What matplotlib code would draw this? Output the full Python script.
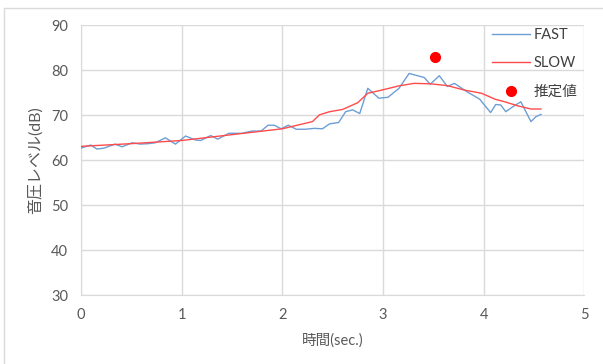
import matplotlib
matplotlib.use("Agg")
import matplotlib.pyplot as plt
from matplotlib.patches import Rectangle

# FAST time weighting (s, dB)
t_fast = [0.00, 0.10, 0.16, 0.23, 0.34, 0.41, 0.51, 0.59, 0.67, 0.74, 0.84, 0.94,
          1.04, 1.14, 1.19, 1.29, 1.36, 1.47, 1.60, 1.70, 1.79, 1.86, 1.92, 1.99,
          2.06, 2.14, 2.23, 2.32, 2.40, 2.47, 2.56, 2.63, 2.70, 2.77, 2.85, 2.96,
          3.05, 3.16, 3.26, 3.41, 3.47, 3.56, 3.64, 3.71, 3.83, 3.96, 4.07, 4.12,
          4.17, 4.22, 4.29, 4.37, 4.47, 4.52, 4.57]
fast = [62.7, 63.4, 62.5, 62.7, 63.6, 63.0, 63.9, 63.6, 63.7, 63.9, 65.0, 63.6,
        65.4, 64.5, 64.4, 65.5, 64.7, 66.0, 66.0, 66.5, 66.5, 67.8, 67.8, 67.0,
        67.8, 66.9, 66.9, 67.1, 67.0, 68.1, 68.4, 70.8, 71.2, 70.4, 76.0, 73.8,
        74.0, 76.0, 79.3, 78.4, 76.9, 78.8, 76.4, 77.1, 75.3, 73.6, 70.6, 72.4,
        72.3, 70.8, 71.9, 73.0, 68.6, 69.7, 70.2]

# SLOW time weighting (s, dB)
t_slow = [0.00, 0.50, 1.00, 1.50, 2.00, 2.15, 2.30, 2.37, 2.47, 2.60, 2.75, 2.85,
          2.95, 3.08, 3.15, 3.31, 3.47, 3.64, 3.81, 3.98, 4.11, 4.21, 4.34, 4.47, 4.57]
slow = [63.1, 63.7, 64.4, 65.7, 67.0, 67.8, 68.6, 70.1, 70.8, 71.3, 72.8, 74.9,
        75.4, 76.1, 76.5, 77.1, 77.0, 76.6, 75.6, 74.9, 73.6, 73.0, 72.1, 71.4, 71.4]

# Estimated value
t_est = [3.52]
est = [83.0]

x_ticks = [0, 1, 2, 3, 4, 5]
y_ticks = [30, 40, 50, 60, 70, 80, 90]

FONT = ["Lato", "Noto Sans CJK JP", "DejaVu Sans"]
plt.rcParams["font.family"] = FONT

fig = plt.figure(figsize=(6.03, 3.64), dpi=100)
ax = fig.add_axes([0.1340, 0.1887, 0.8350, 0.7418])

grid_c = "#DADADA"
text_c = "#595959"

ax.plot(t_fast, fast, color="#6C9FD6", lw=1.0, label="FAST", zorder=3)
ax.plot(t_slow, slow, color="#FF4B4B", lw=1.0, label="SLOW", zorder=4)
ax.plot(t_est, est, "o", color="#FF0000", ms=7, lw=0, label="推定値", zorder=5)

ax.set_xlim(0, 5)
ax.set_ylim(30, 90)
ax.set_xticks(x_ticks)
ax.set_yticks(y_ticks)
ax.grid(True, color=grid_c, lw=1.0)
ax.set_axisbelow(True)
for s in ax.spines.values():
    s.set_visible(False)
ax.spines["left"].set_visible(True)
ax.spines["bottom"].set_visible(True)
ax.spines["left"].set_color(grid_c)
ax.spines["bottom"].set_color(grid_c)
ax.tick_params(length=0, colors=text_c, labelsize=10.5, pad=9)

ax.set_xlabel("時間(sec.)", fontsize=10.5, color=text_c, labelpad=8)
ax.set_ylabel("音圧レベル(dB)", fontsize=11.5, color=text_c, labelpad=6)

leg = ax.legend(loc="upper right", bbox_to_anchor=(1.003, 1.022), frameon=False,
                fontsize=10.5, handlelength=2.6, handletextpad=0.2,
                labelspacing=0.98, borderaxespad=0.2)
for txt in leg.get_texts():
    txt.set_color("#404040")

# Chart area border
fig.patches.append(Rectangle((4 / 603, -0.05), 1.2, 1 - 8 / 364 + 0.05,
                             transform=fig.transFigure, fill=False,
                             edgecolor=grid_c, lw=1.0))

fig.savefig("out.png", dpi=100)
